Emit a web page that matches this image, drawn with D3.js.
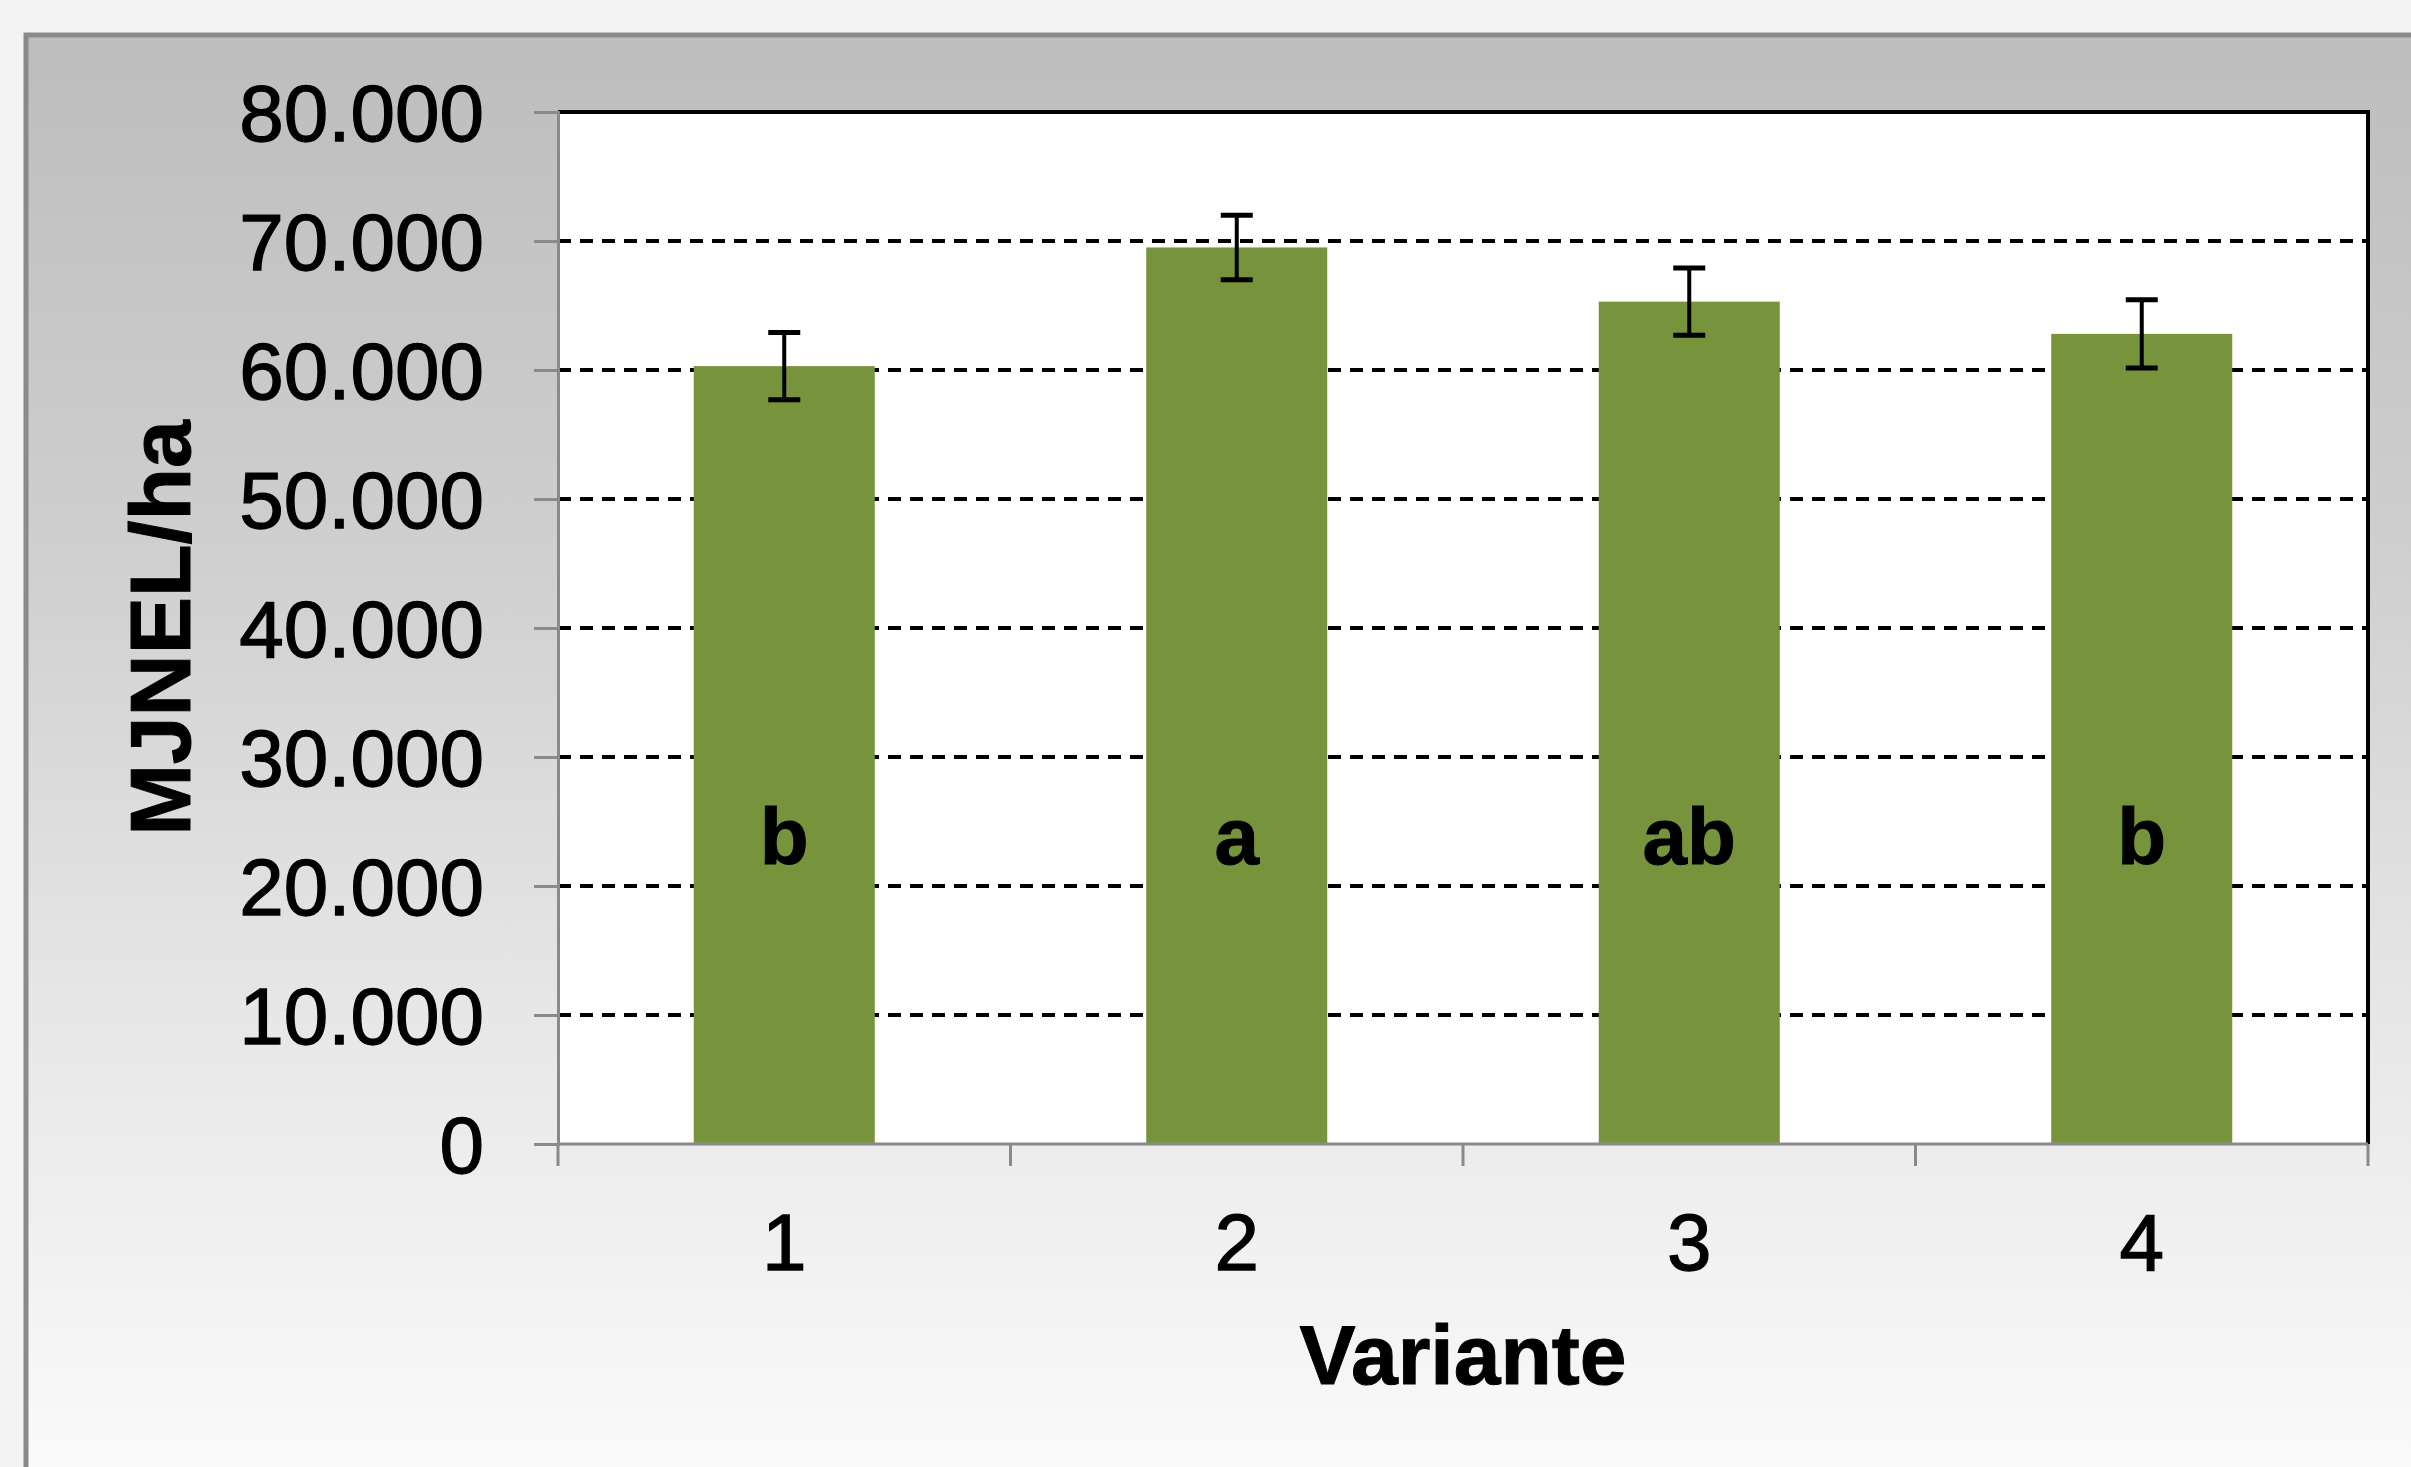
<!DOCTYPE html>
<html>
<head>
<meta charset="utf-8">
<script src="https://cdn.jsdelivr.net/npm/d3@7"></script>
<style>
  html, body { margin: 0; padding: 0; background: #f2f2f2; }
  svg { display: block; }
  text { font-family: "Liberation Sans", Arial, sans-serif; }
</style>
</head>
<body>
<svg id="chart" width="2411" height="1467"></svg>
<script>
// ---- data ----
const categories = ["1", "2", "3", "4"];
const values = [60300, 69500, 65300, 62800];
const errors = [2600, 2500, 2600, 2650];
const letters = ["b", "a", "ab", "b"];
const yTicks = [0, 10000, 20000, 30000, 40000, 50000, 60000, 70000, 80000];
const yTickLabels = ["0", "10.000", "20.000", "30.000", "40.000", "50.000", "60.000", "70.000", "80.000"];
const xTitle = "Variante";
const yTitle = "MJNEL/ha";

// ---- layout ----
const W = 2411, H = 1467;
const plot = { left: 558, right: 2368, top: 112, bottom: 1144 };
const svg = d3.select("#chart");

// background + frame
const defs = svg.append("defs");
const grad = defs.append("linearGradient").attr("id", "bg").attr("x1", 0).attr("y1", 0).attr("x2", 0).attr("y2", 1);
grad.append("stop").attr("offset", "0%").attr("stop-color", "#bdbdbd");
grad.append("stop").attr("offset", "35%").attr("stop-color", "#cfcfcf");
grad.append("stop").attr("offset", "65%").attr("stop-color", "#e6e6e6");
grad.append("stop").attr("offset", "100%").attr("stop-color", "#fcfcfc");

svg.append("rect").attr("x", 0).attr("y", 0).attr("width", W).attr("height", H).attr("fill", "#f3f3f3");
svg.append("rect").attr("x", 26).attr("y", 35).attr("width", W + 10).attr("height", H + 10)
  .attr("fill", "url(#bg)").attr("stroke", "#8a8a8a").attr("stroke-width", 5);

// scales
const xOuter = d3.scaleBand().domain(categories).range([plot.left, plot.right]).padding(0);
const x = d3.scaleBand().domain(categories).range([plot.left, plot.right]).paddingInner(0.6).paddingOuter(0.3);
const y = d3.scaleLinear().domain([0, 80000]).range([plot.bottom, plot.top]);

// plot area
svg.append("rect").attr("x", plot.left).attr("y", plot.top)
  .attr("width", plot.right - plot.left).attr("height", plot.bottom - plot.top).attr("fill", "#ffffff");

// gridlines
svg.append("g").selectAll("line").data(yTicks.filter(t => t > 0 && t < 80000)).join("line")
  .attr("x1", plot.left).attr("x2", plot.right)
  .attr("y1", d => y(d)).attr("y2", d => y(d))
  .attr("stroke", "#000").attr("stroke-width", 4).attr("stroke-dasharray", "13,9");

// bars
svg.append("g").selectAll("rect").data(categories).join("rect")
  .attr("x", (c) => x(c)).attr("width", x.bandwidth())
  .attr("y", (c, i) => y(values[i])).attr("height", (c, i) => y(0) - y(values[i]))
  .attr("fill", "#77933c");

// error bars
const eb = svg.append("g").attr("stroke", "#000").attr("stroke-width", 4);
categories.forEach((c, i) => {
  const cx = x(c) + x.bandwidth() / 2;
  const hi = y(values[i] + errors[i]), lo = y(values[i] - errors[i]);
  eb.append("line").attr("x1", cx).attr("x2", cx).attr("y1", hi).attr("y2", lo);
  eb.append("line").attr("x1", cx - 16).attr("x2", cx + 16).attr("y1", hi).attr("y2", hi).attr("stroke-width", 5);
  eb.append("line").attr("x1", cx - 16).attr("x2", cx + 16).attr("y1", lo).attr("y2", lo).attr("stroke-width", 5);
});

// significance letters
svg.append("g").selectAll("text").data(categories).join("text")
  .attr("x", c => x(c) + x.bandwidth() / 2).attr("y", 864)
  .attr("text-anchor", "middle").attr("font-weight", "bold").attr("font-size", 80)
  .attr("fill", "#000").attr("stroke", "#000").attr("stroke-width", 1)
  .text((c, i) => letters[i]);

// plot borders: top/right black, left/bottom gray
svg.append("line").attr("x1", plot.left).attr("x2", plot.right + 2).attr("y1", plot.top).attr("y2", plot.top)
  .attr("stroke", "#000").attr("stroke-width", 4);
svg.append("line").attr("x1", plot.right).attr("x2", plot.right).attr("y1", plot.top).attr("y2", plot.bottom)
  .attr("stroke", "#000").attr("stroke-width", 4);

// y axis
const yAxis = d3.axisLeft(y).tickValues(yTicks).tickFormat((d, i) => yTickLabels[i]).tickSize(24).tickPadding(50);
const gy = svg.append("g").attr("transform", `translate(${plot.left},0)`).call(yAxis);
gy.select(".domain").attr("stroke", "#8a8a8a").attr("stroke-width", 3);
gy.selectAll(".tick line").attr("stroke", "#8a8a8a").attr("stroke-width", 3);
gy.selectAll(".tick text").attr("font-size", 80).attr("fill", "#000")
  .attr("stroke", "#000").attr("stroke-width", 1.3)
  .attr("font-family", "'Liberation Sans', Arial, sans-serif").attr("dy", "0.36em");

// x axis (ticks at category boundaries)
const xAxis = d3.axisBottom(xOuter).tickSize(22).tickFormat("");
const gx = svg.append("g").attr("transform", `translate(0,${plot.bottom})`).call(xAxis);
gx.select(".domain").attr("stroke", "#8a8a8a").attr("stroke-width", 3).attr("d", `M${plot.left},0H${plot.right}`);
gx.selectAll(".tick").remove();
const bounds = categories.map(c => xOuter(c)).concat([plot.right]);
gx.selectAll("line.b").data(bounds).join("line").attr("class", "b")
  .attr("x1", d => d).attr("x2", d => d).attr("y1", 0).attr("y2", 22)
  .attr("stroke", "#8a8a8a").attr("stroke-width", 3);
gx.selectAll("text.lab").data(categories).join("text").attr("class", "lab")
  .attr("x", c => xOuter(c) + xOuter.bandwidth() / 2).attr("y", 126)
  .attr("text-anchor", "middle").attr("font-size", 80).attr("fill", "#000")
  .attr("stroke", "#000").attr("stroke-width", 1.3).text(c => c);

// axis titles
svg.append("text").attr("x", (plot.left + plot.right) / 2).attr("y", 1384)
  .attr("text-anchor", "middle").attr("font-weight", "bold").attr("font-size", 84)
  .attr("stroke", "#000").attr("stroke-width", 1).text(xTitle);
svg.append("text").attr("transform", `translate(190,${(plot.top + plot.bottom) / 2}) rotate(-90)`)
  .attr("text-anchor", "middle").attr("font-weight", "bold").attr("font-size", 86)
  .attr("stroke", "#000").attr("stroke-width", 1).text(yTitle);
</script>
</body>
</html>
